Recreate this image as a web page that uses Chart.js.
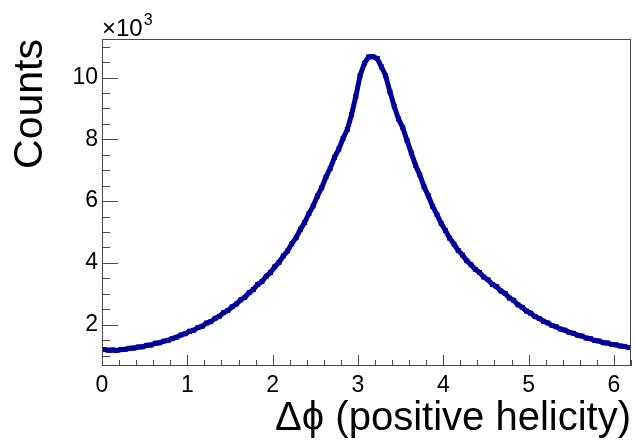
<!DOCTYPE html>
<html>
<head>
<meta charset="utf-8">
<script src="https://cdn.jsdelivr.net/npm/chart.js@4.4.1/dist/chart.umd.min.js"></script>
<style>
  html, body { margin: 0; padding: 0; background: #fff; }
  #wrap { width: 635px; height: 445px; position: relative; }
</style>
</head>
<body>
<div id="wrap"><canvas id="dphiChart"></canvas></div>
<script>
// histogram binning (delta phi, 124 bins of 0.05)
const binStart = 0;
const binWidth = 0.05;

// counts per bin
const counts = [
  1195, 1170, 1178, 1165, 1192, 1203, 1236, 1240, 1276, 1281,
  1330, 1340, 1396, 1410, 1466, 1490, 1552, 1590, 1665, 1705,
  1784, 1818, 1906, 1948, 2052, 2096, 2204, 2268, 2388, 2455,
  2578, 2668, 2802, 2886, 3036, 3138, 3302, 3396, 3566, 3686,
  3876, 4014, 4226, 4386, 4626, 4814, 5086, 5304, 5598, 5844,
  6168, 6434, 6778, 7062, 7418, 7684, 8028, 8320, 8800, 9390,
  10070, 10460, 10670, 10680, 10620, 10350, 10060, 9540, 9070, 8660,
  8380, 7960, 7560, 7160, 6850, 6460, 6170, 5830, 5570, 5280,
  5050, 4800, 4610, 4400, 4250, 4070, 3940, 3790, 3690, 3540,
  3450, 3300, 3230, 3090, 3010, 2860, 2790, 2640, 2560, 2440,
  2370, 2260, 2200, 2105, 2055, 1970, 1930, 1855, 1820, 1750,
  1720, 1655, 1630, 1565, 1545, 1485, 1470, 1415, 1405, 1355,
  1345, 1305, 1295, 1255
];

// axis ranges and ticks
const xRange = [0, 6.2];
const yRange = [660, 11250];
const xMajor = [0, 1, 2, 3, 4, 5, 6];
const xMinorStep = 0.2;
const yMajor = [2000, 4000, 6000, 8000, 10000];
const yMinorStep = 500;

const points = counts.map((c, i) => ({ x: binStart + (i + 0.5) * binWidth, y: c }));

// frame + inward ticks, ROOT style
const frameTicks = {
  id: 'frameTicks',
  afterDraw(chart) {
    const { ctx, chartArea: a, scales: { x, y } } = chart;
    ctx.save();
    ctx.strokeStyle = '#4a4a4a';
    ctx.lineWidth = 1;
    ctx.strokeRect(a.left + 0.5, a.top + 0.5, a.right - a.left - 1, a.bottom - a.top - 1);

    ctx.beginPath();
    for (let v = xRange[0]; v <= xRange[1] + 1e-9; v += xMinorStep) {
      const px = Math.round(x.getPixelForValue(v)) + 0.5;
      const isMajor = xMajor.some(m => Math.abs(m - v) < 1e-6);
      const len = isMajor ? 11 : 6;
      ctx.moveTo(px, a.bottom);
      ctx.lineTo(px, a.bottom - len);
    }
    const yStart = Math.ceil(yRange[0] / yMinorStep) * yMinorStep;
    for (let v = yStart; v <= yRange[1]; v += yMinorStep) {
      const py = Math.round(y.getPixelForValue(v)) + 0.5;
      const len = (v % 2000 === 0) ? 16 : 8;
      ctx.moveTo(a.left, py);
      ctx.lineTo(a.left + len, py);
    }
    ctx.stroke();

    // exponent label
    ctx.fillStyle = '#000';
    ctx.textBaseline = 'alphabetic';
    ctx.font = '24px "Liberation Sans", Arial, sans-serif';
    ctx.fillText('\u00d710', a.left, a.top - 3);
    const w = ctx.measureText('\u00d710').width;
    ctx.font = '16px "Liberation Sans", Arial, sans-serif';
    ctx.fillText('3', a.left + w + 1, a.top - 14);
    ctx.restore();
  }
};

const ctx = document.getElementById('dphiChart').getContext('2d');
const dphiChart = new Chart(ctx, {
  type: 'line',
  data: {
    datasets: [{
      label: 'positive helicity',
      data: points,
      borderColor: '#000099',
      backgroundColor: '#000099',
      borderWidth: 5,
      pointStyle: 'rect',
      pointRadius: 3.5,
      pointBorderWidth: 0,
      tension: 0
    }]
  },
  options: {
    responsive: true,
    maintainAspectRatio: false,
    animation: false,
    layout: { padding: { top: 39, right: 1, left: 0, bottom: 0 } },
    plugins: {
      legend: { display: false },
      tooltip: { enabled: false }
    },
    scales: {
      x: {
        type: 'linear',
        min: xRange[0],
        max: xRange[1],
        afterBuildTicks: s => { s.ticks = xMajor.map(v => ({ value: v })); },
        afterFit: s => { s.height = 79; },
        grid: { display: false, drawTicks: false },
        border: { display: false },
        ticks: {
          color: '#000',
          padding: 6,
          maxRotation: 0,
          font: { family: '"Liberation Sans", Arial, sans-serif', size: 23 },
          callback: v => String(v)
        },
        title: {
          display: true,
          text: '\u0394\u03d5 (positive helicity)',
          align: 'end',
          color: '#000',
          font: { family: '"Liberation Sans", Arial, sans-serif', size: 40 },
          padding: { top: 0, bottom: 2 }
        }
      },
      y: {
        type: 'linear',
        min: yRange[0],
        max: yRange[1],
        afterBuildTicks: s => { s.ticks = yMajor.map(v => ({ value: v })); },
        afterFit: s => { s.width = 102; },
        grid: { display: false, drawTicks: false },
        border: { display: false },
        ticks: {
          color: '#000',
          padding: 4,
          font: { family: '"Liberation Sans", Arial, sans-serif', size: 23 },
          callback: v => String(v / 1000)
        },
        title: {
          display: true,
          text: 'Counts',
          align: 'end',
          color: '#000',
          font: { family: '"Liberation Sans", Arial, sans-serif', size: 41 },
          padding: { top: 6, bottom: 0 }
        }
      }
    }
  },
  plugins: [frameTicks]
});
</script>
</body>
</html>
